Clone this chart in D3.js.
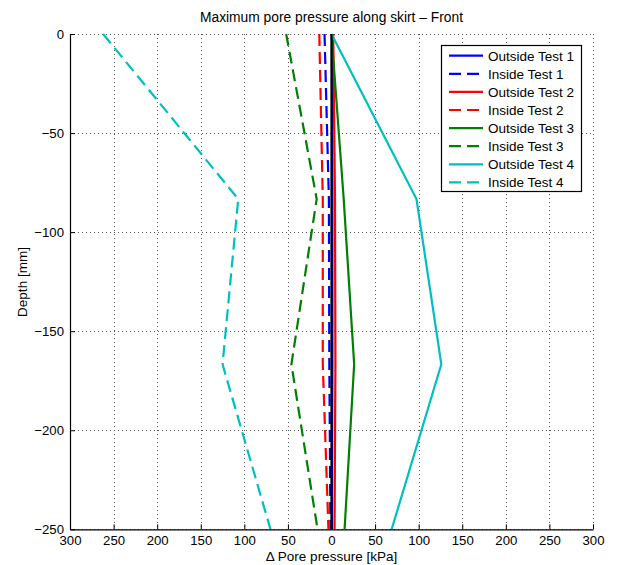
<!DOCTYPE html>
<html>
<head>
<meta charset="utf-8">
<script src="https://cdn.jsdelivr.net/npm/d3@7"></script>
<style>
  html, body { margin: 0; padding: 0; background: #fff; }
  svg { display: block; font-family: "Liberation Sans", Arial, Helvetica, sans-serif; }
</style>
</head>
<body>
<svg id="chart" width="621" height="565"></svg>
<script>
// Depths of the measuring points along the skirt [mm]
const depths = [0, -83.3, -166.7, -250];

// Maximum pore pressure change [kPa]; inside readings are plotted on the negative side
const outsideTest1 = [0.5, 1, 1, 0.5];
const insideTest1  = [-8, -3, -2.5, -1.2];
const outsideTest2 = [2, 4, 4.5, 3.5];
const insideTest2  = [-14, -10, -10, -3.5];
const outsideTest3 = [0, 14, 26, 15];
const insideTest3  = [-52, -17, -46, -16];
const outsideTest4 = [0, 97.5, 126, 69];
const insideTest4  = [-262, -107, -125, -70];

const xTicks = [-300, -250, -200, -150, -100, -50, 0, 50, 100, 150, 200, 250, 300];
const yTicks = [0, -50, -100, -150, -200, -250];

const series = [
  { name: "Outside Test 1", values: outsideTest1, color: "#0000ff", dashed: false },
  { name: "Inside Test 1",  values: insideTest1,  color: "#0000ff", dashed: true },
  { name: "Outside Test 2", values: outsideTest2, color: "#ff0000", dashed: false },
  { name: "Inside Test 2",  values: insideTest2,  color: "#ff0000", dashed: true },
  { name: "Outside Test 3", values: outsideTest3, color: "#008000", dashed: false },
  { name: "Inside Test 3",  values: insideTest3,  color: "#008000", dashed: true },
  { name: "Outside Test 4", values: outsideTest4, color: "#00bfbf", dashed: false },
  { name: "Inside Test 4",  values: insideTest4,  color: "#00bfbf", dashed: true }
];

const svg = d3.select("#chart");
const plotLeft = 70, plotRight = 593, plotTop = 34, plotBottom = 529.3;

const x = d3.scaleLinear().domain([-300, 300]).range([plotLeft, plotRight]);
const y = d3.scaleLinear().domain([-250, 0]).range([plotBottom, plotTop]);

// Dotted grid
const grid = svg.append("g").attr("stroke", "#555").attr("stroke-width", 1)
  .attr("stroke-dasharray", "1,3");
grid.selectAll("line.v").data(xTicks).join("line").attr("class", "v")
  .attr("x1", d => Math.round(x(d)) + 0.5).attr("x2", d => Math.round(x(d)) + 0.5)
  .attr("y1", plotTop).attr("y2", plotBottom);
grid.selectAll("line.h").data(yTicks).join("line").attr("class", "h")
  .attr("y1", d => Math.round(y(d)) + 0.5).attr("y2", d => Math.round(y(d)) + 0.5)
  .attr("x1", plotLeft).attr("x2", plotRight);

// Data lines
const line = d3.line()
  .x(d => x(d[0]))
  .y(d => y(d[1]));

svg.append("g").selectAll("path").data(series).join("path")
  .attr("d", s => line(s.values.map((v, i) => [v, depths[i]])))
  .attr("fill", "none")
  .attr("stroke", s => s.color)
  .attr("stroke-width", 2.2)
  .attr("stroke-dasharray", s => s.dashed ? "12,6" : null);

// Zero line
svg.append("line")
  .attr("x1", x(0)).attr("x2", x(0))
  .attr("y1", y(0)).attr("y2", y(-250))
  .attr("stroke", "#000").attr("stroke-width", 2.2);

// Axes
const xAxis = d3.axisBottom(x).tickValues(xTicks)
  .tickFormat(d => String(Math.abs(d))).tickSizeInner(-5).tickSizeOuter(0).tickPadding(6);
const gx = svg.append("g").attr("transform", `translate(0,${plotBottom})`).call(xAxis);

const yAxis = d3.axisLeft(y).tickValues(yTicks)
  .tickFormat(d3.format("d")).tickSizeInner(-5).tickSizeOuter(0).tickPadding(6);
const gy = svg.append("g").attr("transform", `translate(${plotLeft},0)`).call(yAxis);

[gx, gy].forEach(g => {
  g.select(".domain").attr("stroke", "#000").attr("stroke-width", 1.2);
  g.selectAll(".tick line").attr("stroke", "#000");
  g.selectAll(".tick text").attr("font-size", 13.2).attr("fill", "#000")
    .attr("font-family", "'Liberation Sans', Arial, sans-serif");
});

// Titles
svg.append("text").attr("x", 331.5).attr("y", 22).attr("text-anchor", "middle")
  .attr("font-size", 13.8).text("Maximum pore pressure along skirt \u2013 Front");
svg.append("text").attr("x", 331.5).attr("y", 561).attr("text-anchor", "middle")
  .attr("font-size", 13.5).text("\u0394 Pore pressure [kPa]");
svg.append("text").attr("transform", "translate(27,282) rotate(-90)")
  .attr("text-anchor", "middle").attr("font-size", 13.5).text("Depth [mm]");

// Legend
const lg = svg.append("g");
lg.append("rect").attr("x", 441.5).attr("y", 45.5).attr("width", 140).attr("height", 146)
  .attr("fill", "#fff").attr("stroke", "#000").attr("stroke-width", 1.2);
const item = lg.selectAll("g.item").data(series).join("g").attr("class", "item")
  .attr("transform", (d, i) => `translate(0,${55.7 + i * 18.1})`);
item.append("line").attr("x1", 449).attr("x2", 483)
  .attr("stroke", d => d.color).attr("stroke-width", 2.2)
  .attr("stroke-dasharray", d => d.dashed ? "12,6" : null);
item.append("text").attr("x", 488).attr("y", 4.8).attr("font-size", 13.5)
  .text(d => d.name);
</script>
</body>
</html>
